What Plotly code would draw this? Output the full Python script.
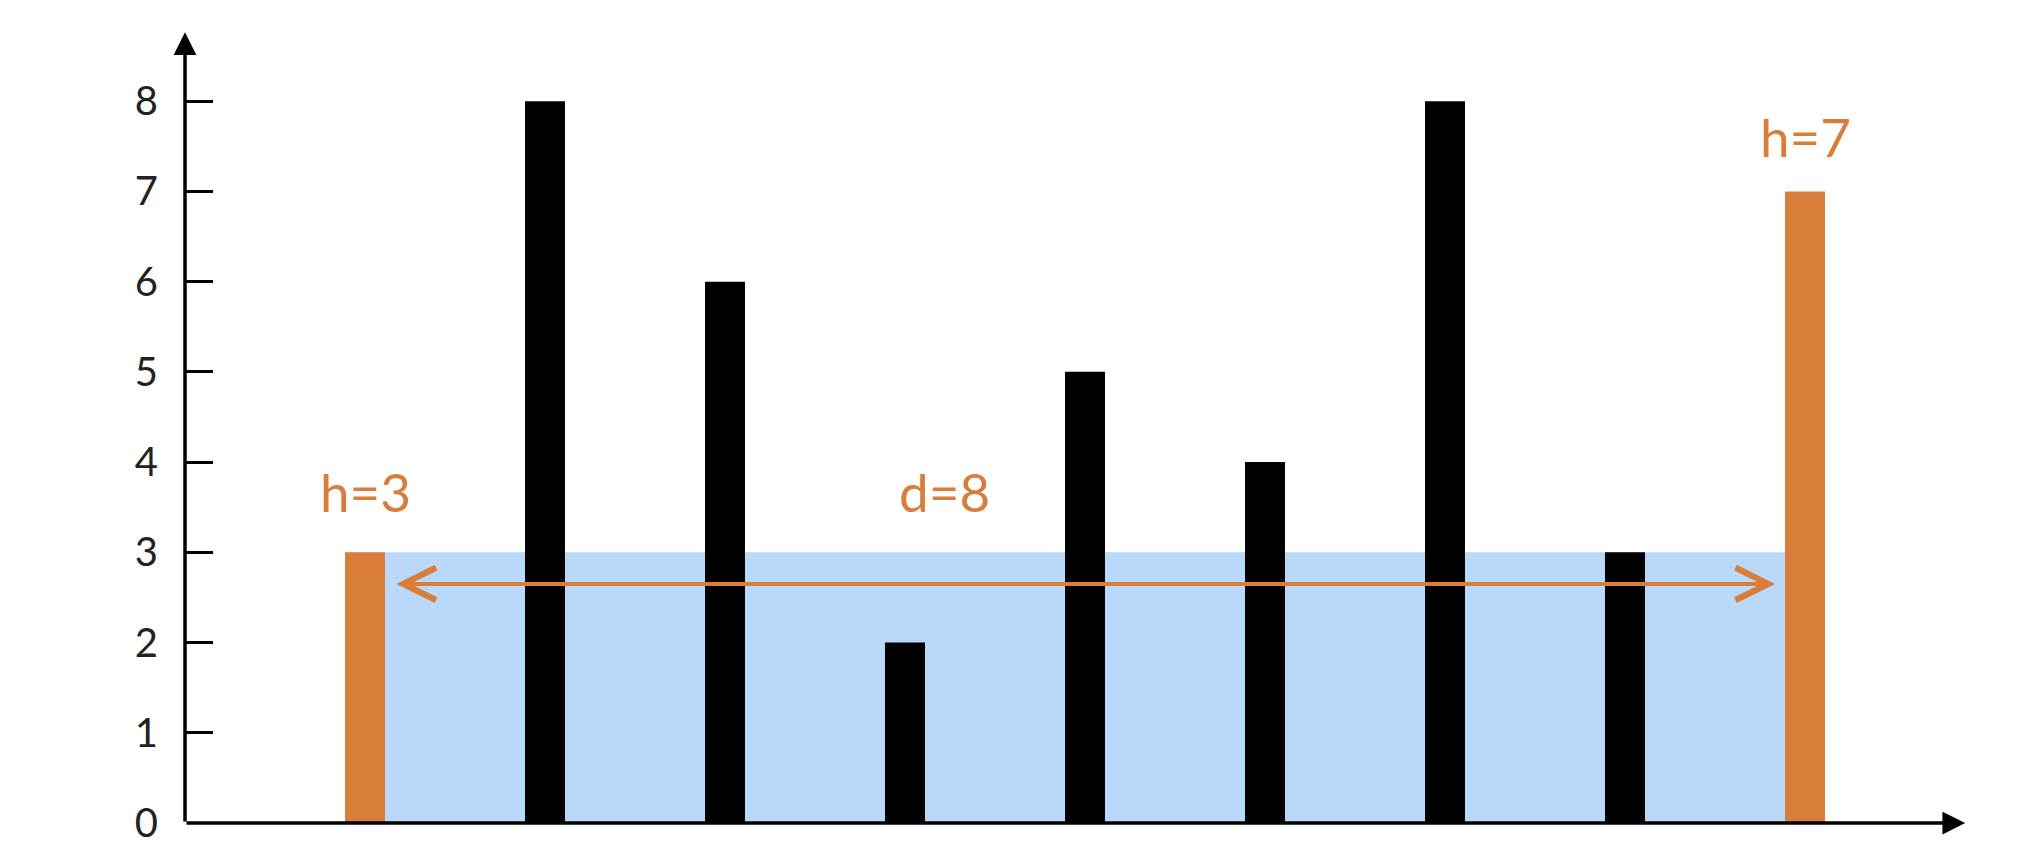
import plotly.graph_objects as go

# alturas de las líneas (problema "container with most water")
positions = [1, 2, 3, 4, 5, 6, 7, 8, 9]
heights = [3, 8, 6, 2, 5, 4, 8, 3, 7]
chosen = [0, 8]  # índices de las dos líneas elegidas
y_ticks = [0, 1, 2, 3, 4, 5, 6, 7, 8]

ORANGE = '#D97D3A'
BLUE = '#BAD8FA'
BAR_W = 0.222

colors = [ORANGE if i in chosen else 'black' for i in range(len(heights))]

left_x = positions[chosen[0]]
right_x = positions[chosen[1]]
water_h = min(heights[chosen[0]], heights[chosen[1]])
dist = right_x - left_x

fig = go.Figure()

# área de agua
fig.add_shape(
    type='rect', xref='x', yref='y',
    x0=left_x + BAR_W / 2, x1=right_x - BAR_W / 2,
    y0=0, y1=water_h,
    fillcolor=BLUE, line_width=0, layer='below'
)

fig.add_trace(go.Bar(
    x=positions,
    y=heights,
    width=BAR_W,
    marker=dict(color=colors, line_width=0),
    hoverinfo='skip'
))

# flecha de distancia
fig.add_annotation(
    x=right_x - BAR_W / 2 - 0.055, y=water_h - 0.35,
    ax=left_x + BAR_W / 2 + 0.055, ay=water_h - 0.35,
    xref='x', yref='y', axref='x', ayref='y',
    text='', showarrow=True,
    arrowhead=5, startarrowhead=5, arrowside='end+start',
    arrowsize=1.6, startarrowsize=1.6, arrowwidth=4, arrowcolor=ORANGE
)

label_font = dict(family='Lato', size=53, color=ORANGE)
fig.add_annotation(x=left_x, y=heights[chosen[0]] + 0.67, text=f'h={heights[chosen[0]]}',
                   showarrow=False, font=label_font)
fig.add_annotation(x=right_x, y=heights[chosen[1]] + 0.61, text=f'h={heights[chosen[1]]}',
                   showarrow=False, font=label_font)
fig.add_annotation(x=4.22, y=water_h + 0.67, text=f'd={dist}',
                   showarrow=False, font=label_font)

# ejes con flechas
fig.add_annotation(x=9.89, y=0, ax=0, ay=0, xref='x', yref='y', axref='x', ayref='y',
                   text='', showarrow=True, arrowhead=2, arrowsize=1.3, arrowwidth=3.5,
                   arrowcolor='black')
fig.add_annotation(x=0, y=8.765, ax=0, ay=0, xref='x', yref='y', axref='x', ayref='y',
                   text='', showarrow=True, arrowhead=2, arrowsize=1.3, arrowwidth=3.5,
                   arrowcolor='black')

fig.update_xaxes(range=[0, 9.9], showgrid=False, zeroline=False, showline=False,
                 showticklabels=False, ticks='', automargin=False)
fig.update_yaxes(range=[0, 8.8], tickvals=y_ticks, showgrid=False, zeroline=False,
                 showline=False, ticks='inside', ticklen=28, tickwidth=3, tickcolor='black',
                 tickfont=dict(family='Lato', size=40, color='#222'), ticklabelstandoff=26,
                 ticklabeloverflow='allow', automargin=False)

fig.update_layout(
    width=2042, height=852,
    margin=dict(l=185, r=75, t=29, b=29),
    plot_bgcolor='white', paper_bgcolor='white',
    showlegend=False
)

# quitar el margen por defecto del body para que la figura ocupe toda la ventana
fig.write_html("out.html", config={'displayModeBar': False},
               post_script="document.body.style.margin='0';")
